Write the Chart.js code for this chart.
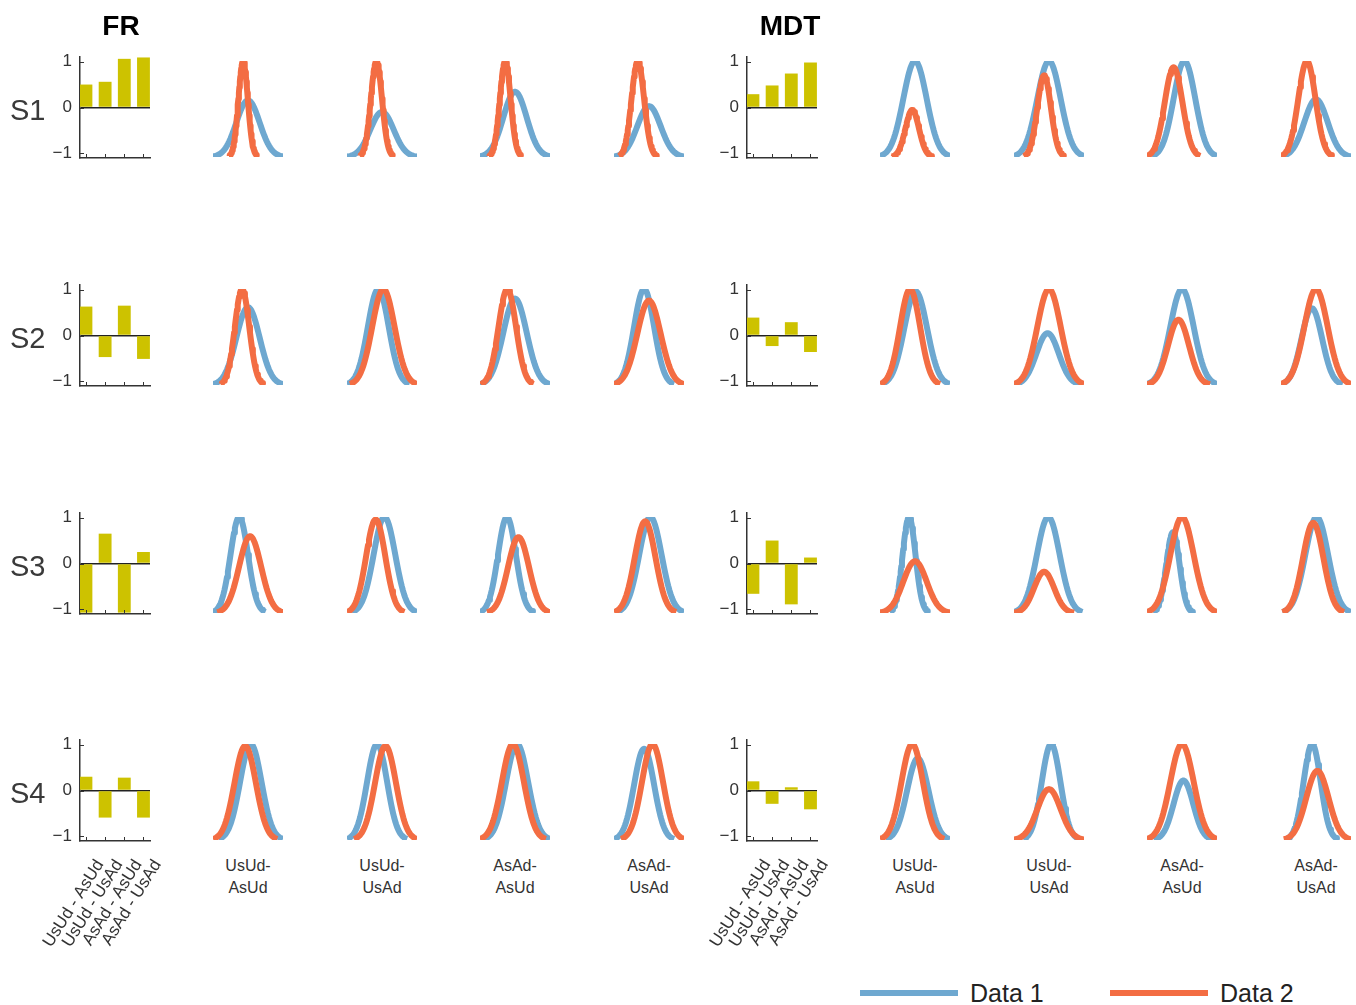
<!DOCTYPE html>
<html>
<head>
<meta charset="utf-8">
<title>FR / MDT</title>
<script src="https://cdn.jsdelivr.net/npm/chart.js@4.4.3/dist/chart.umd.min.js"></script>
<style>
  body { margin: 0; background: #fff; font-family: "Liberation Sans", Arial, sans-serif; }
  #fig { position: relative; width: 1356px; height: 1005px; overflow: hidden; }
  #fig canvas { position: absolute; }
  .txt { position: absolute; color: #333; white-space: nowrap; }
  .title { font-weight: bold; font-size: 28px; color: #000; transform: translate(-50%, -50%); }
  .subj { font-size: 29px; color: #3a3a3a; transform: translateY(-50%); }
  .cmp { font-size: 16px; text-align: center; line-height: 22px; transform: translateX(-50%); }
  .swatch { position: absolute; height: 6px; }
  .legtxt { font-size: 25px; color: #222; transform: translateY(-50%); }
</style>
</head>
<body>
<div id="fig"></div>
<script>
const subjects = ['S1', 'S2', 'S3', 'S4'];
const comparisons = ['UsUd-AsUd', 'UsUd-UsAd', 'AsAd-AsUd', 'AsAd-UsAd'];
const barLabels = ['UsUd - AsUd', 'UsUd - UsAd', 'AsAd - AsUd', 'AsAd - UsAd'];
const seriesNames = ['Data 1', 'Data 2'];

// bar values, one row per subject
const frBars = [
  [0.50, 0.56, 1.06, 1.09],
  [0.63, -0.47, 0.65, -0.51],
  [-1.07, 0.65, -1.07, 0.25],
  [0.30, -0.59, 0.28, -0.59]
];
const mdtBars = [
  [0.29, 0.48, 0.74, 0.98],
  [0.39, -0.23, 0.29, -0.36],
  [-0.66, 0.50, -0.89, 0.13],
  [0.20, -0.29, 0.07, -0.41]
];

// normal curves per subject (rows) and comparison (columns): mean, sd, peak height
const frMu1 = [[50, 50, 50, 50], [50, 44.7, 50, 43], [37.5, 53.5, 38.5, 52], [54, 43, 53, 43]];
const frSd1 = [[16.7, 16.7, 16.7, 16.7], [16.7, 14.9, 16.7, 14.3], [12.5, 15.5, 12.8, 16], [15.3, 14.3, 15.7, 14.3]];
const frPeak1 = [[0.59, 0.47, 0.68, 0.53], [0.81, 1, 0.9, 1], [1, 1, 1, 1], [1, 1, 1, 0.95]];
const frMu2 = [[43, 42, 36, 34], [41.5, 52, 39, 50], [53, 41, 55, 44.5], [46, 55, 47, 55]];
const frSd2 = [[6.7, 8, 7.7, 9], [10.3, 16, 12.5, 16.7], [15.7, 13.7, 15, 14.8], [15.3, 15, 15.7, 15]];
const frPeak2 = [[1, 1, 1, 1], [1, 1, 1, 0.88], [0.80, 0.975, 0.79, 0.955], [0.98, 0.98, 1, 1]];

const mdtMu1 = [[50, 50, 53.5, 50], [51, 48, 50, 44], [41.5, 49, 37, 51], [54, 53, 52, 44.5]];
const mdtSd1 = [[16.7, 16.7, 15.5, 16.7], [16.3, 16, 16.7, 14.7], [9.2, 16.3, 9.5, 16.3], [15.3, 13.3, 14, 12.2]];
const mdtPeak1 = [[1, 1, 1, 0.6], [0.975, 0.54, 1, 0.8], [1, 1, 0.84, 1], [0.85, 1, 0.62, 1]];
const mdtMu2 = [[46, 43, 38, 37], [43, 50, 45, 50], [50, 43, 50, 46], [46, 50, 50, 52]];
const mdtSd2 = [[9.7, 9.7, 12.7, 12.3], [14.3, 16.7, 15, 16.7], [16.7, 14.3, 16.7, 14.7], [15.3, 16.7, 16.7, 16]];
const mdtPeak2 = [[0.49, 0.85, 0.935, 1], [1, 1, 0.68, 1], [0.54, 0.43, 1, 0.94], [1, 0.53, 1, 0.72]];

const blue = '#6ea8d0';
const orange = '#f36d43';
const barColor = '#cdc200';
const axisColor = '#333';

// grid of panels
const COL0 = 80, COL_STEP = 133.4, PANEL_W = 70;
const ROW0 = 107.5, ROW_STEP = 227.75;   // y of each row's zero line

Chart.defaults.font.family = '"Liberation Sans", Arial, sans-serif';

const fig = document.getElementById('fig');

function addCanvas(left, top, w, h) {
  const c = document.createElement('canvas');
  c.width = w; c.height = h;
  c.style.left = left + 'px'; c.style.top = top + 'px';
  c.style.width = w + 'px'; c.style.height = h + 'px';
  fig.appendChild(c);
  return c;
}

function addText(cls, text, x, y) {
  const d = document.createElement('div');
  d.className = 'txt ' + cls;
  d.innerHTML = text;
  d.style.left = x + 'px';
  d.style.top = y + 'px';
  fig.appendChild(d);
  return d;
}

const colLeft = c => Math.round(COL0 + COL_STEP * c);
const rowZero = r => ROW0 + ROW_STEP * r;

// matlab style ticks pointing into the axes
const innerTicks = {
  id: 'innerTicks',
  afterDatasetsDraw(chart) {
    const { ctx, chartArea: a, scales: { x, y } } = chart;
    ctx.save();
    ctx.strokeStyle = axisColor;
    ctx.lineWidth = 1;
    ctx.beginPath();
    x.ticks.forEach(t => {
      const px = Math.round(x.getPixelForValue(t.value)) + 0.5;
      ctx.moveTo(px, a.bottom); ctx.lineTo(px, a.bottom - 4);
    });
    y.ticks.forEach(t => {
      const py = Math.round(y.getPixelForValue(t.value)) + 0.5;
      ctx.moveTo(a.left, py); ctx.lineTo(a.left + 4, py);
    });
    ctx.stroke();
    ctx.restore();
  }
};

function barChart(values, row, col) {
  const last = row === subjects.length - 1;
  const padL = 80, padT = 24, padR = 40, areaH = 101;
  const xh = last ? 120 : 24;
  const areaLeft = colLeft(col);
  const areaTop = Math.round(rowZero(row) - areaH / 2);
  const canvas = addCanvas(areaLeft - padL, areaTop - padT, padL + PANEL_W + padR, padT + areaH + xh);

  new Chart(canvas, {
    type: 'bar',
    data: {
      datasets: [{
        data: values.map((v, i) => ({ x: i + 1, y: v })),
        backgroundColor: barColor,
        borderWidth: 0,
        barPercentage: 0.67,
        categoryPercentage: 1
      }]
    },
    options: {
      responsive: false,
      animation: false,
      events: [],
      layout: { padding: { left: 0, top: padT, right: padR, bottom: 0 } },
      plugins: { legend: { display: false }, tooltip: { enabled: false } },
      scales: {
        x: {
          type: 'linear',
          offset: false,
          min: 0.69, max: 4.34,
          afterBuildTicks: s => { s.ticks = barLabels.map((_, i) => ({ value: i + 1 })); },
          afterFit: s => { s.height = xh; },
          grid: { display: false, drawTicks: false, offset: false },
          border: { display: true, color: axisColor, width: 1.5 },
          ticks: {
            display: last,
            autoSkip: false,
            minRotation: 58, maxRotation: 58,
            padding: 15,
            labelOffset: 14,
            color: '#333',
            font: { size: 17 },
            callback: v => barLabels[v - 1]
          }
        },
        y: {
          min: -1.1, max: 1.1,
          afterBuildTicks: s => { s.ticks = [-1, 0, 1].map(v => ({ value: v })); },
          afterFit: s => { s.width = padL; },
          grid: {
            drawTicks: false,
            lineWidth: 1.5,
            color: c => (c.tick && c.tick.value === 0 ? '#222' : 'rgba(0,0,0,0)')
          },
          border: { display: true, color: axisColor, width: 1.5 },
          ticks: {
            padding: 8,
            color: '#333',
            font: { size: 17 },
            callback: v => (v < 0 ? '\u2212' + Math.abs(v) : String(v))
          }
        }
      }
    },
    plugins: [innerTicks]
  });
}

function curve(mu, sd, peak) {
  const pts = [];
  const n = 60;
  for (let i = 0; i <= n; i++) {
    const x = mu - 3 * sd + (6 * sd * i) / n;
    const z = (x - mu) / sd;
    pts.push({ x, y: peak * Math.exp(-0.5 * z * z) });
  }
  return pts;
}

function curveChart(row, col, p1, p2) {
  const pad = 6, areaH = 96;
  const areaLeft = colLeft(col);
  const areaTop = Math.round(rowZero(row) - 46.5);
  const canvas = addCanvas(areaLeft - pad, areaTop - pad, PANEL_W + 2 * pad, areaH + 2 * pad);

  const line = (label, pts, color, order) => ({
    label, data: pts, borderColor: color, borderWidth: 6,
    pointRadius: 0, fill: false, tension: 0, order,
    borderJoinStyle: 'round'
  });

  new Chart(canvas, {
    type: 'line',
    data: {
      datasets: [
        line(seriesNames[0], curve(...p1), blue, 1),
        line(seriesNames[1], curve(...p2), orange, 0)
      ]
    },
    options: {
      responsive: false,
      animation: false,
      events: [],
      layout: { padding: pad },
      plugins: { legend: { display: false }, tooltip: { enabled: false } },
      scales: {
        x: { type: 'linear', min: 0, max: 100, display: false },
        y: { min: 0, max: 1, display: false }
      }
    }
  });
}

const groups = [
  { title: 'FR', col: 0, bars: frBars, mu1: frMu1, sd1: frSd1, pk1: frPeak1, mu2: frMu2, sd2: frSd2, pk2: frPeak2 },
  { title: 'MDT', col: 5, bars: mdtBars, mu1: mdtMu1, sd1: mdtSd1, pk1: mdtPeak1, mu2: mdtMu2, sd2: mdtSd2, pk2: mdtPeak2 }
];

groups.forEach(g => {
  subjects.forEach((s, r) => {
    barChart(g.bars[r], r, g.col);
    comparisons.forEach((_, k) => {
      curveChart(r, g.col + 1 + k,
        [g.mu1[r][k], g.sd1[r][k], g.pk1[r][k]],
        [g.mu2[r][k], g.sd2[r][k], g.pk2[r][k]]);
    });
  });
  comparisons.forEach((name, k) => {
    const [a, b] = name.split('-');
    addText('cmp', a + '-<br>' + b, colLeft(g.col + 1 + k) + PANEL_W / 2, 855);
  });
});

addText('title', 'FR', 121, 26);
addText('title', 'MDT', 790, 26);
subjects.forEach((s, r) => addText('subj', s, 10, rowZero(r) + 2.5));

// legend
[[blue, 860], [orange, 1110]].forEach(([color, x], i) => {
  const sw = document.createElement('div');
  sw.className = 'swatch';
  sw.style.left = x + 'px';
  sw.style.top = '990px';
  sw.style.width = '98px';
  sw.style.background = color;
  fig.appendChild(sw);
  addText('legtxt', seriesNames[i], x + 110, 993);
});
</script>
</body>
</html>
